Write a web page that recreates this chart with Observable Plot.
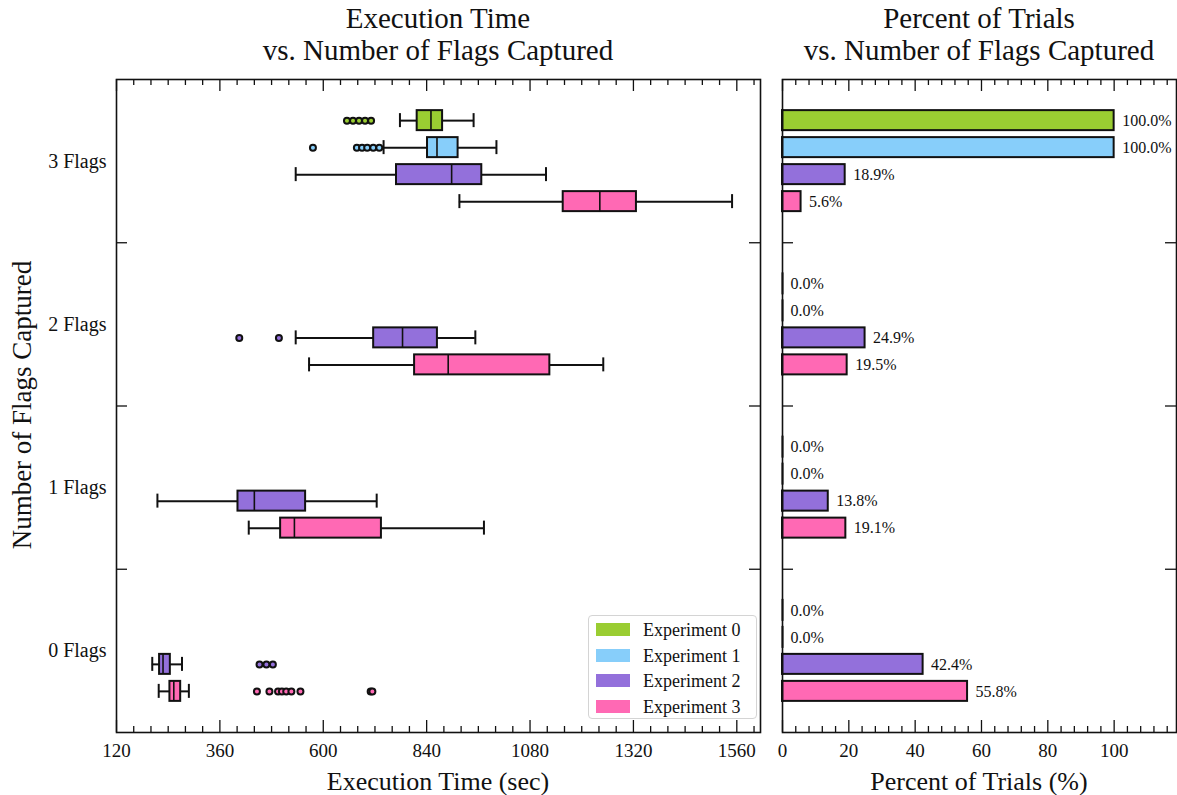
<!DOCTYPE html>
<html>
<head>
<meta charset="utf-8">
<script src="https://cdn.jsdelivr.net/npm/d3@7"></script>
<script src="https://cdn.jsdelivr.net/npm/@observablehq/plot@0.6"></script>
<style>
  html, body { margin: 0; padding: 0; background: #fff; }
  #root { position: relative; width: 1177px; height: 795px; font-family: "Liberation Serif", serif; color: #111; overflow: hidden; }
  .abs { position: absolute; }
  .title { font-size: 29px; line-height: 32px; text-align: center; }
  .axlabel { font-size: 26px; line-height: 30px; text-align: center; }
  #legend { left: 588px; top: 615px; width: 167px; height: 102px; border: 1.5px solid #d4d4d4; border-radius: 4px; background: rgba(255,255,255,0.85); }
  .lrow { position: absolute; left: 0; height: 26px; width: 100%; }
  .sw { position: absolute; left: 7px; top: 6px; width: 34px; height: 13px; }
  .lt { position: absolute; left: 54px; top: 0; font-size: 18px; line-height: 26px; white-space: nowrap; }
</style>
</head>
<body>
<div id="root">
  <div class="abs title" style="left:116px;width:644px;top:2px;">Execution Time<br>vs. Number of Flags Captured</div>
  <div class="abs title" style="left:782px;width:394px;top:2px;">Percent of Trials<br>vs. Number of Flags Captured</div>
  <div id="left" class="abs" style="left:0;top:0;"></div>
  <div id="right" class="abs" style="left:770px;top:0;"></div>
  <div class="abs axlabel" style="left:116px;width:644px;top:767px;">Execution Time (sec)</div>
  <div class="abs axlabel" style="left:782px;width:394px;top:767px;">Percent of Trials (%)</div>
  <div class="abs axlabel" style="font-size:27px;left:-178px;top:390px;width:400px;transform:rotate(-90deg);">Number of Flags Captured</div>
  <div id="legend" class="abs"></div>
</div>
<script>
// ---------- data ----------
const flags = ["0 Flags", "1 Flags", "2 Flags", "3 Flags"];
const experiments = ["Experiment 0", "Experiment 1", "Experiment 2", "Experiment 3"];
const colors = ["#9ACD32", "#87CEFA", "#9370DB", "#FF69B4"];

// box-plot statistics (execution time, sec)
const boxFlag     = ["3 Flags", "3 Flags", "3 Flags", "3 Flags", "2 Flags", "2 Flags", "1 Flags", "1 Flags", "0 Flags", "0 Flags"];
const boxExp      = [0, 1, 2, 3, 2, 3, 2, 3, 2, 3];
const whiskerLow  = [778, 740, 536, 916, 536, 567, 215, 427, 203, 218];
const q1          = [818, 842, 770, 1157, 717, 812, 402, 501, 220, 244];
const median      = [850, 864, 898, 1242, 784, 890, 440, 533, 228, 253];
const q3          = [877, 913, 968, 1327, 865, 1126, 559, 735, 245, 269];
const whiskerHigh = [949, 1002, 1117, 1549, 953, 1250, 724, 973, 272, 288];

// outliers
const outlierFlag = ["3 Flags", "3 Flags", "3 Flags", "3 Flags", "3 Flags",
                     "3 Flags", "3 Flags", "3 Flags", "3 Flags", "3 Flags", "3 Flags",
                     "2 Flags", "2 Flags",
                     "0 Flags", "0 Flags", "0 Flags",
                     "0 Flags", "0 Flags", "0 Flags", "0 Flags", "0 Flags", "0 Flags", "0 Flags", "0 Flags", "0 Flags"];
const outlierExp  = [0, 0, 0, 0, 0,
                     1, 1, 1, 1, 1, 1,
                     2, 2,
                     2, 2, 2,
                     3, 3, 3, 3, 3, 3, 3, 3, 3];
const outlierTime = [655, 669, 683, 697, 711,
                     576, 678, 690, 702, 716, 730,
                     405, 497,
                     452, 468, 483,
                     446, 475, 495, 504, 514, 526, 547, 710, 714];

// percent of trials per number of flags (order of `flags`)
const pctExp0 = [0, 0, 0, 100];
const pctExp1 = [0, 0, 0, 100];
const pctExp2 = [42.4, 13.8, 24.9, 18.9];
const pctExp3 = [55.8, 19.1, 19.5, 5.6];

// tick labels
const timeTicks = [120, 360, 600, 840, 1080, 1320, 1560];
const pctTicks = [0, 20, 40, 60, 80, 100];

// ---------- layout (styles) ----------
const H = 795, mTop = 79, mBottom = 63;
const plotH = H - mTop - mBottom;             // 653
const pxPerGroup = plotH / flags.length;
const slot = 27 / pxPerGroup;                  // spacing between experiments in a group
const half = 10 / pxPerGroup;                  // half box / bar height
const capHalf = 7 / pxPerGroup;
const zeroHalf = 11 / pxPerGroup;
const fontFam = "'Liberation Serif', serif";
const fmt = d3.format("d");

const yc = (flag, e) => flags.indexOf(flag) + (1.5 - e) * slot;

const boxes = boxFlag.map((f, i) => ({
  flag: f, exp: experiments[boxExp[i]], y: yc(f, boxExp[i]),
  lo: whiskerLow[i], q1: q1[i], med: median[i], q3: q3[i], hi: whiskerHigh[i]
}));
const outliers = outlierTime.map((t, i) => ({
  flag: outlierFlag[i], exp: experiments[outlierExp[i]], y: yc(outlierFlag[i], outlierExp[i]), t
}));
const pctSeries = [pctExp0, pctExp1, pctExp2, pctExp3];
const pcts = [];
flags.forEach((f, fi) => pctSeries.forEach((s, e) => pcts.push({flag: f, exp: experiments[e], y: yc(f, e), pct: s[fi]})));

const colorScale = {domain: experiments, range: colors};
const separators = [0.5, 1.5, 2.5];

function frameTicks(majors, minors, plotW) {
  return [
    Plot.tickX(minors, {x: d => d, insetTop: plotH - 6, strokeWidth: 1.3, stroke: "#111"}),
    Plot.tickX(minors, {x: d => d, insetBottom: plotH - 6, strokeWidth: 1.3, stroke: "#111"}),
    Plot.tickX(majors, {x: d => d, insetTop: plotH - 12, strokeWidth: 1.3, stroke: "#111"}),
    Plot.tickX(majors, {x: d => d, insetBottom: plotH - 12, strokeWidth: 1.3, stroke: "#111"}),
    Plot.tickY(separators, {y: d => d, insetRight: plotW - 11, strokeWidth: 1.3, stroke: "#111"}),
    Plot.tickY(separators, {y: d => d, insetLeft: plotW - 11, strokeWidth: 1.3, stroke: "#111"}),
    Plot.frame({stroke: "#111", strokeWidth: 1.6})
  ];
}

// ---------- left: box plots ----------
const leftW = 770, leftML = 116, leftMR = 10;
const timeMinors = d3.range(160, 1615, 40).filter(v => !timeTicks.includes(v));
const left = Plot.plot({
  width: leftW, height: H,
  marginLeft: leftML, marginRight: leftMR, marginTop: mTop, marginBottom: mBottom,
  style: {fontFamily: fontFam, fontSize: "19px", color: "#111", background: "transparent"},
  x: {domain: [120, 1615]},
  y: {domain: [-0.5, 3.5]},
  color: colorScale,
  marks: [
    ...frameTicks(timeTicks, timeMinors, leftW - leftML - leftMR),
    Plot.axisX(timeTicks, {tickSize: 0, tickPadding: 11, fontSize: 19, label: null, tickFormat: fmt}),
    Plot.axisY([0, 1, 2, 3], {tickSize: 0, tickPadding: 10, fontSize: 20, label: null, tickFormat: i => flags[i]}),
    Plot.ruleY(boxes, {y: "y", x1: "lo", x2: "q1", stroke: "#111", strokeWidth: 2}),
    Plot.ruleY(boxes, {y: "y", x1: "q3", x2: "hi", stroke: "#111", strokeWidth: 2}),
    Plot.ruleX(boxes, {x: "lo", y1: d => d.y - capHalf, y2: d => d.y + capHalf, stroke: "#111", strokeWidth: 2}),
    Plot.ruleX(boxes, {x: "hi", y1: d => d.y - capHalf, y2: d => d.y + capHalf, stroke: "#111", strokeWidth: 2}),
    Plot.rect(boxes, {x1: "q1", x2: "q3", y1: d => d.y - half, y2: d => d.y + half, fill: "exp", stroke: "#111", strokeWidth: 2}),
    Plot.ruleX(boxes, {x: "med", y1: d => d.y - half, y2: d => d.y + half, stroke: "#111", strokeWidth: 1.6}),
    Plot.dot(outliers, {x: "t", y: "y", r: 3, fill: "exp", stroke: "#111", strokeWidth: 2})
  ]
});
document.getElementById("left").append(left);

// ---------- right: percent bars ----------
const rightW = 407, rightML = 12, rightMR = 1;
const pctMinors = d3.range(4, 119, 4).filter(v => !pctTicks.includes(v));
const right = Plot.plot({
  width: rightW, height: H,
  marginLeft: rightML, marginRight: rightMR, marginTop: mTop, marginBottom: mBottom,
  style: {fontFamily: fontFam, fontSize: "19px", color: "#111", background: "transparent"},
  x: {domain: [0, 118.8]},
  y: {domain: [-0.5, 3.5], axis: null},
  color: colorScale,
  marks: [
    ...frameTicks(pctTicks, pctMinors, rightW - rightML - rightMR),
    Plot.axisX(pctTicks, {tickSize: 0, tickPadding: 11, fontSize: 19, label: null, tickFormat: fmt}),
    Plot.rect(pcts, {x1: () => 0, x2: "pct", y1: d => d.y - half, y2: d => d.y + half, fill: "exp", stroke: "#111", strokeWidth: 2}),
    Plot.ruleX(pcts, {x: () => 0, y1: d => d.y - zeroHalf, y2: d => d.y + zeroHalf, stroke: "#111", strokeWidth: 2}),
    Plot.text(pcts, {x: "pct", y: "y", text: d => d.pct.toFixed(1) + "%", dx: 8, textAnchor: "start", fontSize: 16, fill: "#111"})
  ]
});
document.getElementById("right").append(right);

// ---------- legend ----------
const legend = document.getElementById("legend");
experiments.forEach((name, i) => {
  const row = document.createElement("div");
  row.className = "lrow";
  row.style.top = (1 + i * 25.7) + "px";
  row.innerHTML = `<div class="sw" style="background:${colors[i]}"></div><div class="lt">${name}</div>`;
  legend.append(row);
});
</script>
</body>
</html>
